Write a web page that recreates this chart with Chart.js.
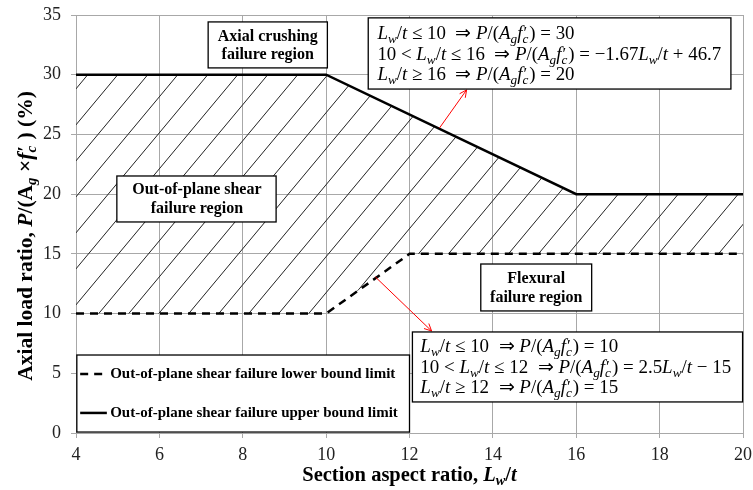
<!DOCTYPE html>
<html>
<head>
<meta charset="utf-8">
<script src="https://cdn.jsdelivr.net/npm/chart.js@4"></script>
<style>
  html, body { margin: 0; padding: 0; background: #fff; }
  #wrap { width: 753px; height: 490px; }
</style>
</head>
<body>
<div id="wrap"><canvas id="myChart" width="753" height="490"></canvas></div>
<script>
// Data
const upperX = [4, 10, 16, 20];
const upperY = [30, 30, 20, 20];
const lowerX = [4, 10, 12, 20];
const lowerY = [10, 10, 15, 15];
const xRange = [4, 20];
const yRange = [0, 35];
const xStep = 2;
const yStep = 5;

const legendLabels = [
  'Out-of-plane shear failure lower bound limit',
  'Out-of-plane shear failure upper bound limit',
];

const serif = '"Liberation Serif", "Times New Roman", serif';
const gridGray = '#a8a8a8';

// Hatch pattern for the shear region
function makeHatch() {
  const w = 30, h = 36;
  const c = document.createElement('canvas');
  c.width = w;
  c.height = h;
  const g = c.getContext('2d');
  g.strokeStyle = '#222';
  g.lineWidth = 1;
  for (const k of [-w, 0, w]) {
    g.beginPath();
    g.moveTo(k, h);
    g.lineTo(k + w, 0);
    g.stroke();
  }
  return g.createPattern(c, 'repeat');
}

// Mixed style text (italic, subscripts, primes)
function fontOf(size, italic, bold, family) {
  return (italic ? 'italic ' : '') + (bold ? 'bold ' : '') + size + 'px ' + family;
}

function drawRuns(ctx, runs, x, y, size, family, bold, measureOnly) {
  let cx = x;
  ctx.textAlign = 'left';
  ctx.textBaseline = 'alphabetic';
  for (const [t, f] of runs) {
    const it = f.includes('i');
    if (f.includes('k')) {
      const ss = size * 0.7;
      ctx.font = fontOf(ss, true, bold, family);
      const w1 = ctx.measureText(t).width;
      if (!measureOnly) ctx.fillText(t, cx, y + size * 0.18);
      ctx.font = fontOf(size * 0.9, false, bold, family);
      const w2 = ctx.measureText('′').width;
      if (!measureOnly) ctx.fillText('′', cx + 1, y - size * 0.05);
      cx += Math.max(w1, w2) + 1;
    } else {
      const sub = f.includes('s');
      const ss = sub ? size * 0.7 : size;
      ctx.font = fontOf(ss, it, bold, family);
      if (!measureOnly) ctx.fillText(t, cx, y + (sub ? size * 0.18 : 0));
      cx += ctx.measureText(t).width;
    }
  }
  return cx - x;
}

const Lwt = [['L', 'i'], ['w', 'is'], ['/', ''], ['t', 'i']];
const Pfc = [['P', 'i'], ['/(', ''], ['A', 'i'], ['g', 'is'], ['f', 'i'], ['c', 'k']];

const upperEq = [
  [...Lwt, [' ≤ 10  ⇒ ', ''], ...Pfc, [') = 30', '']],
  [['10 < ', ''], ...Lwt, [' ≤ 16  ⇒ ', ''], ...Pfc, [') = −1.67', ''], ...Lwt, [' + 46.7', '']],
  [...Lwt, [' ≥ 16  ⇒ ', ''], ...Pfc, [') = 20', '']],
];
const lowerEq = [
  [...Lwt, [' ≤ 10  ⇒ ', ''], ...Pfc, [') = 10', '']],
  [['10 < ', ''], ...Lwt, [' ≤ 12  ⇒ ', ''], ...Pfc, [') = 2.5', ''], ...Lwt, [' − 15', '']],
  [...Lwt, [' ≥ 12  ⇒ ', ''], ...Pfc, [') = 15', '']],
];

const annotations = {
  id: 'annotations',
  afterDatasetsDraw(chart) {
    const ctx = chart.ctx;
    const sx = chart.scales.x, sy = chart.scales.y;
    const px = v => sx.getPixelForValue(v);
    const py = v => sy.getPixelForValue(v);

    function box(x0, y0, x1, y1) {
      ctx.save();
      ctx.fillStyle = '#fff';
      ctx.fillRect(px(x0), py(y0), px(x1) - px(x0), py(y1) - py(y0));
      ctx.strokeStyle = '#000';
      ctx.lineWidth = 1.3;
      ctx.strokeRect(px(x0), py(y0), px(x1) - px(x0), py(y1) - py(y0));
      ctx.restore();
    }

    function label(lines, cx, ys) {
      ctx.save();
      ctx.fillStyle = '#000';
      ctx.font = 'bold 16px ' + serif;
      ctx.textAlign = 'center';
      ctx.textBaseline = 'middle';
      lines.forEach((l, i) => ctx.fillText(l, px(cx), py(ys[i])));
      ctx.restore();
    }

    function arrow(x0, y0, x1, y1) {
      const a = [px(x0), py(y0)], b = [px(x1), py(y1)];
      const ang = Math.atan2(b[1] - a[1], b[0] - a[0]);
      ctx.save();
      ctx.strokeStyle = '#ff0000';
      ctx.lineWidth = 1;
      ctx.beginPath();
      ctx.moveTo(a[0], a[1]);
      ctx.lineTo(b[0], b[1]);
      for (const s of [-1, 1]) {
        ctx.moveTo(b[0], b[1]);
        ctx.lineTo(b[0] - 8 * Math.cos(ang + s * 0.45), b[1] - 8 * Math.sin(ang + s * 0.45));
      }
      ctx.stroke();
      ctx.restore();
    }

    function equations(lines, x0, x1, ys) {
      ctx.save();
      ctx.fillStyle = '#000';
      const w = drawRuns(ctx, lines[1], 0, 0, 16, serif, false, true);
      const size = 16 * (px(x1) - px(x0)) / w;
      lines.forEach((l, i) => drawRuns(ctx, l, px(x0), py(ys[i]) + size * 0.33, size, serif, false, false));
      ctx.restore();
    }

    // arrows first so the boxes sit on top
    arrow(12.72, 25.54, 13.37, 28.73);
    arrow(11.18, 13.07, 12.53, 8.54);

    box(7.17, 34.42, 10.03, 30.57);
    label(['Axial crushing', 'failure region'], 8.6, [33.17, 31.66]);

    box(4.98, 21.52, 8.8, 17.67);
    label(['Out-of-plane shear', 'failure region'], 6.9, [20.35, 18.76]);

    box(13.71, 14.15, 16.37, 10.22);
    label(['Flexural', 'failure region'], 15.04, [12.9, 11.31]);

    box(11.01, 34.76, 19.71, 28.8);
    equations(upperEq, 11.23, 19.47, [33.5, 31.74, 30.07]);

    box(12.07, 8.46, 19.99, 2.6);
    equations(lowerEq, 12.26, 19.71, [7.29, 5.53, 3.85]);

    // legend
    box(4.02, 6.53, 12.0, 0.08);
    const ly = [4.94, 1.68];
    ctx.save();
    ctx.strokeStyle = '#000';
    ctx.lineWidth = 2.5;
    ly.forEach((v, i) => {
      ctx.setLineDash(i === 0 ? [8, 6] : []);
      ctx.beginPath();
      ctx.moveTo(px(4.1), py(v));
      ctx.lineTo(px(4.74), py(v));
      ctx.stroke();
    });
    ctx.setLineDash([]);
    ctx.fillStyle = '#000';
    ctx.font = 'bold 15px ' + serif;
    ctx.textAlign = 'left';
    ctx.textBaseline = 'middle';
    legendLabels.forEach((t, i) => ctx.fillText(t, px(4.82), py(ly[i])));
    ctx.restore();
  },
  afterDraw(chart) {
    const ctx = chart.ctx;
    const area = chart.chartArea;
    ctx.save();
    ctx.fillStyle = '#000';
    // x title
    const xt = [['Section aspect ratio, ', ''], ['L', 'i'], ['w', 'is'], ['/', ''], ['t', 'i']];
    const wx = drawRuns(ctx, xt, 0, 0, 20.5, serif, true, true);
    drawRuns(ctx, xt, (area.left + area.right) / 2 - wx / 2, 481, 20.5, serif, true, false);
    // y title
    const yt = [['Axial load ratio, ', ''], ['P', 'i'], ['/(A', ''], ['g', 'is'], [' ×', ''], ['f', 'i'], ['c', 'k'], [' ) (%)', '']];
    const wy = drawRuns(ctx, yt, 0, 0, 21.5, serif, true, true);
    ctx.translate(32, 236);
    ctx.rotate(-Math.PI / 2);
    drawRuns(ctx, yt, -wy / 2, 0, 21.5, serif, true, false);
    ctx.restore();
  },
};

const data = {
  datasets: [
    {
      label: legendLabels[0],
      data: lowerX.map((x, i) => ({ x: x, y: lowerY[i] })),
      borderColor: '#000',
      borderWidth: 2.5,
      borderDash: [8, 6],
      pointRadius: 0,
      fill: false,
    },
    {
      label: legendLabels[1],
      data: upperX.map((x, i) => ({ x: x, y: upperY[i] })),
      borderColor: '#000',
      borderWidth: 2.5,
      pointRadius: 0,
      backgroundColor: makeHatch(),
      fill: { target: 0 },
    },
  ],
};

const tickFont = { family: serif, size: 18 };

const config = {
  type: 'line',
  data: data,
  options: {
    responsive: false,
    animation: false,
    layout: { padding: { top: 15, right: 10, left: 0, bottom: 0 } },
    plugins: {
      legend: { display: false },
      tooltip: { enabled: false },
    },
    scales: {
      x: {
        type: 'linear',
        min: xRange[0],
        max: xRange[1],
        ticks: { stepSize: xStep, font: tickFont, color: '#222', padding: 6, maxRotation: 0 },
        grid: { color: gridGray, tickLength: 5, tickColor: gridGray },
        border: { color: gridGray },
        afterFit: s => {
          s.height = 57;
          s.paddingLeft = 0;
          s.paddingRight = 0;
        },
      },
      y: {
        min: yRange[0],
        max: yRange[1],
        ticks: { stepSize: yStep, font: tickFont, color: '#222', padding: 10 },
        grid: { color: gridGray, tickLength: 5, tickColor: gridGray },
        border: { color: gridGray },
        afterFit: s => {
          s.width = 76;
          s.paddingTop = 0;
          s.paddingBottom = 0;
        },
      },
    },
  },
  plugins: [annotations],
};

const myChart = new Chart(document.getElementById('myChart'), config);
</script>
</body>
</html>
